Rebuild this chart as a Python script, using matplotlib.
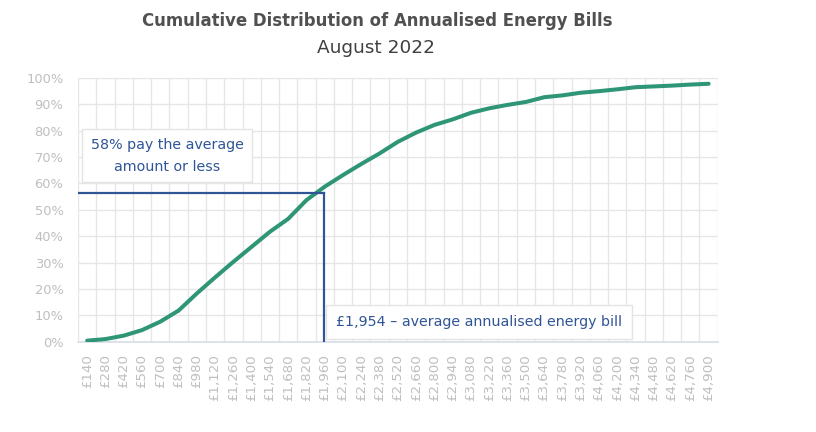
# Cumulative distribution of annualised energy bills, August 2022
import numpy as np
import matplotlib.pyplot as plt

plt.rcParams['font.family'] = ['DejaVu Sans']

# Bill bands (£) and cumulative share of households
bills = list(range(140, 4901, 140))
bill_labels = ['£{:,}'.format(b) for b in bills]
cum_share = [0.4, 1.0, 2.3, 4.4, 7.6, 11.8, 18.3, 24.4, 30.3, 36.0, 41.7, 46.6, 53.7,
             58.8, 63.2, 67.4, 71.4, 75.8, 79.3, 82.2, 84.3, 86.8, 88.5, 89.8,
             90.9, 92.7, 93.4, 94.4, 95.0, 95.7, 96.5, 96.8, 97.1, 97.5, 97.8]

avg_bill = 1954
avg_share = 56.5  # where the curve crosses the average bill
note_share = '58% pay the average\namount or less'
note_bill = '£1,954 – average annualised energy bill'

green = '#2E9677'
navy = '#2F5597'
grey_txt = '#BFBFBF'
grid_c = '#E6E6E6'

fig = plt.figure(figsize=(8.16, 4.32), dpi=100)
ax = fig.add_axes([0.0956, 0.209, 0.784, 0.6105])

x = np.arange(len(bills))
ax.plot(x, np.array(cum_share) / 100, color=green, lw=2.9, solid_capstyle='round', zorder=4)

# average markers
x_avg = (avg_bill - bills[0]) / (bills[1] - bills[0])
y_avg = avg_share / 100
ax.plot([-0.5, x_avg], [y_avg, y_avg], color=navy, lw=1.6, zorder=5)
ax.plot([x_avg, x_avg], [0, y_avg], color=navy, lw=1.6, zorder=5)

ax.set_xlim(-0.5, len(bills) - 0.5)
ax.set_ylim(0, 1)
ax.set_xticks(x)
ax.set_xticklabels(bill_labels, rotation=90, color=grey_txt, fontsize=9.6)
ax.set_xticks(np.arange(len(bills) + 1) - 0.5, minor=True)
yt = np.arange(0, 1.01, 0.1)
ax.set_yticks(yt)
ax.set_yticklabels(['{:.0f}%'.format(v * 100) for v in yt], color=grey_txt, fontsize=9.4)
ax.tick_params(axis='both', which='both', length=0)
ax.tick_params(axis='x', pad=9)
ax.tick_params(axis='y', pad=10.5)

ax.grid(True, axis='x', which='minor', color=grid_c, lw=1)
ax.grid(True, axis='y', which='major', color=grid_c, lw=1)
ax.set_axisbelow(True)
for s in ['top', 'right', 'left']:
    ax.spines[s].set_visible(False)
ax.spines['bottom'].set_color('#D6DEE8')
ax.spines['bottom'].set_linewidth(1.2)

box = dict(boxstyle='square,pad=0.6', fc='white', ec='#E4E4E4', lw=1)
ax.text(4.37, 0.705, note_share, ha='center', va='center', color=navy,
        fontsize=10.3, linespacing=1.7, bbox=box, zorder=6)
box2 = dict(boxstyle='square,pad=0.7', fc='white', ec='#E4E4E4', lw=1)
ax.text(13.6, 0.075, note_bill, ha='left', va='center', color=navy,
        fontsize=10.3, bbox=box2, zorder=6)

fig.text(0.462, 0.951, 'Cumulative Distribution of Annualised Energy Bills',
         ha='center', va='center', fontsize=11.9, fontweight='bold', color='#505050')
fig.text(0.461, 0.889, 'August 2022', ha='center', va='center', fontsize=13.3,
         color='#404040')

fig.savefig('out.png', dpi=100)
